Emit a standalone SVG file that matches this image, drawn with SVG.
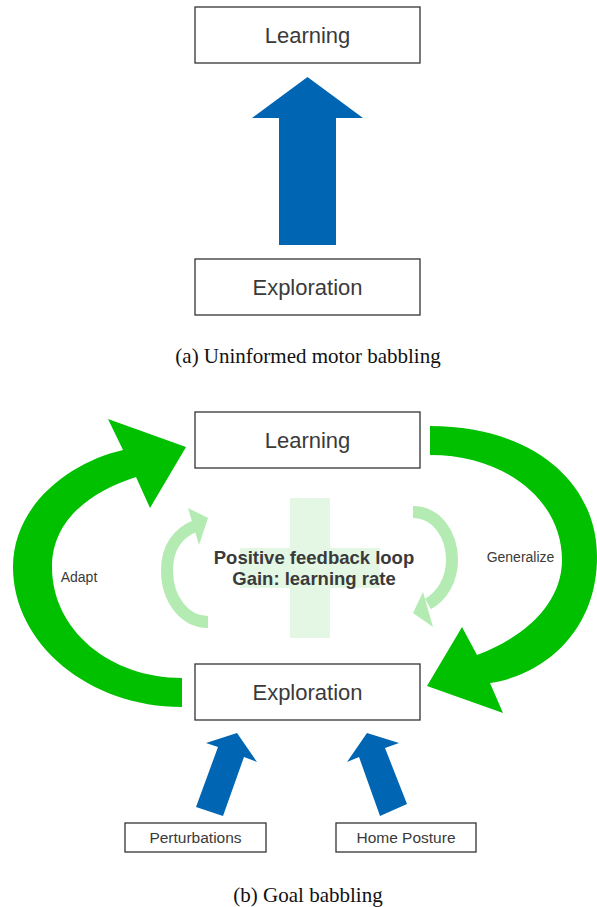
<svg xmlns="http://www.w3.org/2000/svg" width="597" height="907" viewBox="0 0 597 907">
  <style>
    .box { fill: #ffffff; stroke: #333333; stroke-width: 1.3; }
    .lbl { font-family: "Liberation Sans", Arial, sans-serif; fill: #3a3a3a; text-anchor: middle; }
    .big { font-size: 22px; }
    .mid { font-size: 15.5px; }
    .small { font-size: 14px; }
    .bold { font-size: 18.5px; font-weight: bold; }
    .cap { font-family: "Liberation Serif", "Times New Roman", serif; font-size: 21px; fill: #111111; text-anchor: middle; }
    .blue { fill: #0066b3; }
    .green { fill: #00c000; }
    .pale { fill: #b3ebb3; }
    .paleline { fill: none; stroke: #b3ebb3; stroke-width: 12; }
    .plus { fill: #e4f7e4; }
  </style>

  <!-- (a) uninformed motor babbling -->
  <g id="a-learning">
    <rect class="box" x="195" y="7" width="225" height="56"/>
    <text class="lbl big" x="307.5" y="43">Learning</text>
  </g>
  <g id="a-exploration">
    <rect class="box" x="195" y="259" width="225" height="56"/>
    <text class="lbl big" x="307.5" y="295">Exploration</text>
  </g>
  <g id="a-connectors">
    <polygon class="blue" points="279,245 279,118 252,118 307.5,77 363,118 336,118 336,245"/>
  </g>
  <text class="cap" x="308" y="363">(a) Uninformed motor babbling</text>

  <!-- (b) goal babbling -->
  <g id="feedback-sign">
    <rect class="plus" x="290" y="498" width="40" height="140"/>
    <rect class="plus" x="240" y="548" width="140" height="40"/>
  </g>

  <g id="b-connectors">
    <!-- Adapt: exploration back to learning -->
    <path class="green" d="M182,707 C89,707 13,644 13,567 C13,505 70,462 123,450 L108,419 L186,447 L150,508 L136,477 C90,492 52,520 52,567 C52,630 110,678 182,678 Z"/>
    <!-- Generalize: learning to exploration -->
    <path class="green" d="M430,426 C530,426 597,480 597,557 C597,630 545,675 490,683 L503,713 L427,686 L462,627 L477,655 C530,635 562,600 562,560 C562,500 505,455 430,455 Z"/>
    <!-- inner feedback loop arrows -->
    <path class="paleline" d="M208,622 C185,622 167,600 167,570 C167,548 178,533 195,526"/>
    <polygon class="pale" points="188,508 208,518 199,545"/>
    <path class="paleline" d="M413,512 C437,512 452,535 452,560 C452,580 442,596 428,604"/>
    <polygon class="pale" points="423,592 413,613 433,627"/>
    <!-- inputs into exploration -->
    <polygon class="blue" points="196,807 218,747 206,743 237,733 257,762 244,757 223,816"/>
    <polygon class="blue" points="380,816 359,757 347,762 367,733 399,743 385,748 407,804"/>
  </g>

  <g id="b-learning">
    <rect class="box" x="195" y="412" width="225" height="56"/>
    <text class="lbl big" x="307.5" y="448">Learning</text>
  </g>
  <g id="b-exploration">
    <rect class="box" x="195" y="664" width="225" height="56"/>
    <text class="lbl big" x="307.5" y="700">Exploration</text>
  </g>
  <g id="feedback-label">
    <text class="lbl bold" x="314" y="564">Positive feedback loop</text>
    <text class="lbl bold" x="314" y="585">Gain: learning rate</text>
  </g>
  <g id="adapt-label">
    <text class="lbl small" x="79" y="582">Adapt</text>
  </g>
  <g id="generalize-label">
    <text class="lbl small" x="520.5" y="562">Generalize</text>
  </g>
  <g id="perturbations">
    <rect class="box" x="125" y="823" width="141" height="29"/>
    <text class="lbl mid" x="195.5" y="843">Perturbations</text>
  </g>
  <g id="home-posture">
    <rect class="box" x="336" y="823" width="140" height="29"/>
    <text class="lbl mid" x="406" y="843">Home Posture</text>
  </g>
  <text class="cap" x="308" y="902">(b) Goal babbling</text>
</svg>
